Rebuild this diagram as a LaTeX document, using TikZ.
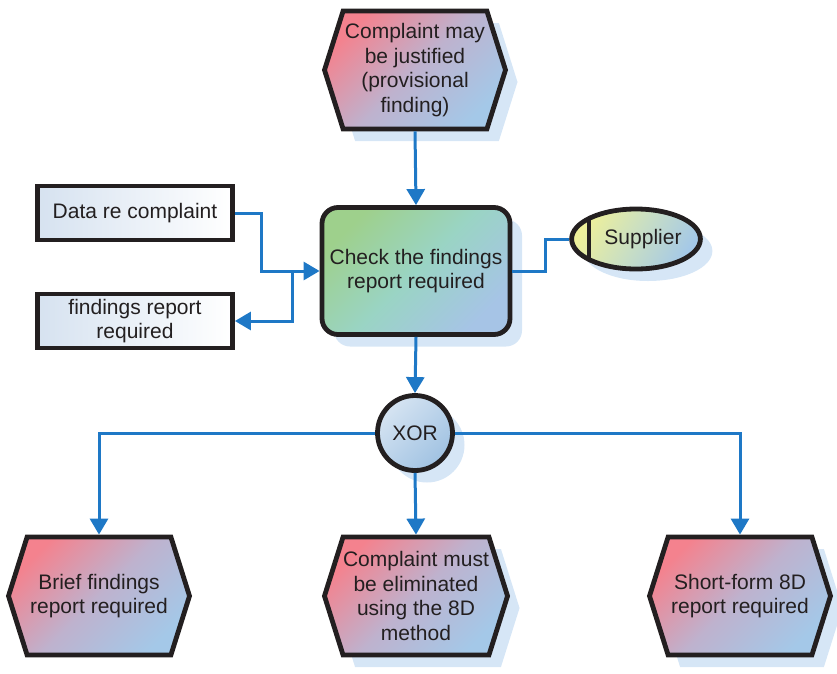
\documentclass[tikz,border=0pt]{standalone}
\usepackage{fontspec}
\setmainfont{Liberation Sans}
\usetikzlibrary{shapes.symbols,shapes.geometric,shadows,arrows.meta,calc}

\definecolor{edgeblue}{RGB}{30,120,198}
\definecolor{inkblack}{RGB}{35,31,32}
\definecolor{shadowc}{RGB}{214,230,246}
\definecolor{hexpink}{RGB}{244,130,142}
\definecolor{hexmauve}{RGB}{190,178,206}
\definecolor{hexblue}{RGB}{164,200,232}
\definecolor{fngreen}{RGB}{158,208,140}
\definecolor{fnteal}{RGB}{154,212,196}
\definecolor{fnblue}{RGB}{166,196,230}
\definecolor{orgyellow}{RGB}{238,240,154}
\definecolor{orgmid}{RGB}{200,222,196}
\definecolor{xorlight}{RGB}{214,228,242}
\definecolor{xordark}{RGB}{160,194,226}
\definecolor{datablue}{RGB}{214,226,240}

\begin{document}
\begin{tikzpicture}[x=1pt,y=-1pt,
  base/.style={draw=inkblack, line width=4.8pt, text=inkblack, align=center,
    inner sep=0pt, font=\fontsize{21}{24.5}\selectfont},
  shadowed/.style={drop shadow={shadow xshift=12pt, shadow yshift=-12pt,
    fill=shadowc, opacity=1}},
  event/.style={base, shape=signal, signal to=east and west,
    signal pointer angle=145, minimum width=181pt, minimum height=118pt,
    top color=hexpink, bottom color=hexblue, middle color=hexmauve,
    shading angle=45},
  function/.style={base, rectangle, rounded corners=16pt,
    minimum width=188pt, minimum height=127pt,
    top color=fngreen, bottom color=fnblue, middle color=fnteal,
    shading angle=45},
  infobox/.style={base, rectangle, minimum width=195pt, minimum height=54pt,
    left color=datablue, right color=white},
  orgunit/.style={base, ellipse, minimum width=126pt, minimum height=60pt,
    top color=orgyellow, bottom color=hexblue, middle color=orgmid,
    shading angle=60,
    path picture={\draw[inkblack, line width=4.8pt]
      ([xshift=-47pt]path picture bounding box.north) --
      ([xshift=-47pt]path picture bounding box.south);}},
  gate/.style={base, circle, minimum size=75pt,
    top color=xorlight, bottom color=xordark, shading angle=45},
  conn/.style={draw=edgeblue, line width=3pt},
  flow/.style={conn, -{Triangle[length=16pt, width=18pt]}}
]
\useasboundingbox (0,0) rectangle (837,673);

% events and functions
\node[event, shadowed] (just) at (415,70)
  {Complaint may\\be justified\\(provisional\\finding)};
\node[function, shadowed] (check) at (416,271)
  {Check the findings\\report required};
\node[infobox] (data) at (135,213) {Data re complaint};
\node[infobox] (rep) at (135,321) {findings report\\required};
\node[orgunit, shadowed] (sup) at (636,239) {\hspace*{14pt}Supplier};
\node[gate, shadowed] (xor) at (415,433) {XOR};
\node[event] (brief) at (99,596) {Brief findings\\report required};
\node[event, shadowed] (must) at (416,596)
  {Complaint must\\be eliminated\\using the 8D\\method};
\node[event, shadowed] (short) at (740,596)
  {Short-form 8D\\report required};

% connectors
\draw[flow] (just.south) -- (check.north);
\draw[flow] (data.east) -- ++(27,0) |- (check.west);
\coordinate (split) at ($(check.west)+(-27,0)$);
\draw[flow] (split) |- (rep.east);
\draw[conn] (check.east) -- ++(33,0) |- (sup.west);
\draw[flow] (check.south) -- (xor.north);
\draw[flow] (xor.west) -| (brief.north);
\draw[flow] (xor.south) -- (must.north);
\draw[flow] (xor.east) -| (short.north);
\end{tikzpicture}
\end{document}
